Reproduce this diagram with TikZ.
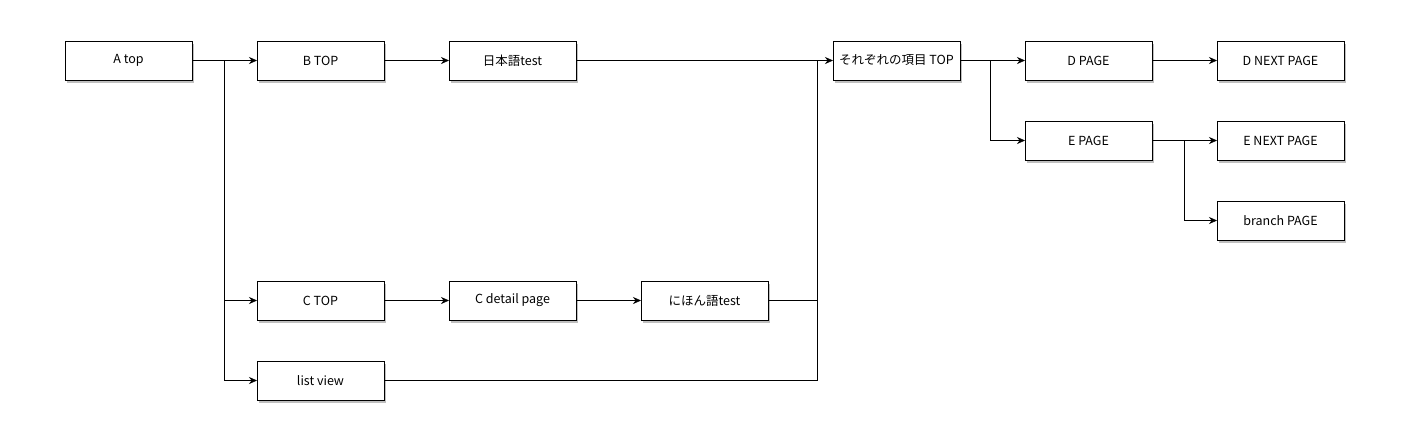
\documentclass[tikz,border=0pt]{standalone}
\usepackage{fontspec}
\setmainfont{Noto Sans CJK JP}
\usetikzlibrary{arrows.meta, positioning, shadows, calc}

\begin{document}
\begin{tikzpicture}[
                > = {Stealth[length=8pt, width=7pt]}, % arrow head style
                x = 1pt, y = -1pt,
                node distance = 40pt and 64pt, % gaps between boxes
                semithick % line style
            ]

            \tikzstyle{page}=[
            draw = black,
            thick,
            rectangle,
            fill = white,
            minimum width = 127pt,
            minimum height = 39pt,
            inner sep = 1pt,
            outer sep = 0pt,
            font = \fontsize{12.5}{14}\selectfont,
            drop shadow = {shadow xshift = 2pt, shadow yshift = -3pt, opacity = 0.5}
            ]

            \useasboundingbox (0,0) rectangle (1408,440);

            \node[page] (a) at (128.5,60.5) {A top};
            \node[page] (b) [right=65pt of a] {B TOP};
            \node[page] (jp) [right=65pt of b] {日本語test};
            \node[page] (c) [below=201pt of b] {C TOP};
            \node[page] (cd) [right=65pt of c] {C detail page};
            \node[page] (ni) [right=65pt of cd] {にほん語test};
            \node[page] (list) [below=41pt of c] {list view};
            \node[page] (s) [right=257pt of jp] {それぞれの項目 TOP};
            \node[page] (d) [right=65pt of s] {D PAGE};
            \node[page] (dn) [right=65pt of d] {D NEXT PAGE};
            \node[page] (e) [below=41pt of d] {E PAGE};
            \node[page] (en) [right=65pt of e] {E NEXT PAGE};
            \node[page] (br) [below=41pt of en] {branch PAGE};

            \coordinate (j1) at ($(a.east)!0.5!(b.west)$);
            \coordinate (j2) at ([xshift=-16pt]s.west);
            \coordinate (j3) at ($(s.east)!0.46!(d.west)$);
            \coordinate (j4) at ($(e.east)!0.5!(en.west)$);

            \path[->] (a) edge (b);
            \path[->] (b) edge (jp);
            \draw[->] (j1) |- (c);
            \draw[->] (j1) |- (list);
            \path[->] (c) edge (cd);
            \path[->] (cd) edge (ni);

            \draw (jp) -- (j2);
            \draw (ni) -| (j2);
            \draw (list) -| (j2);
            \draw[->] (j2) -- (s);

            \draw[->] (s) -- (d);
            \draw[->] (j3) |- (e);
            \path[->] (d) edge (dn);
            \path[->] (e) edge (en);
            \draw[->] (j4) |- (br);
        \end{tikzpicture}
\end{document}
